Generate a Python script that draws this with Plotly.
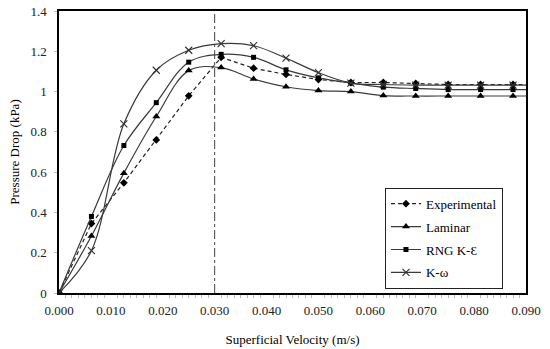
import plotly.graph_objects as go

velocity = [0.0, 0.00625, 0.0125, 0.01875, 0.025, 0.03125, 0.0375, 0.04375,
            0.05, 0.05625, 0.0625, 0.06875, 0.075, 0.08125, 0.0875, 0.09375]

experimental = [0.0, 0.345, 0.547, 0.76, 0.979, 1.17, 1.116, 1.085,
                 1.06, 1.045, 1.045, 1.04, 1.035, 1.035, 1.035, 1.035]
laminar = [0.0, 0.283, 0.595, 0.876, 1.104, 1.119, 1.063, 1.024,
           1.005, 1.0, 0.98, 0.978, 0.978, 0.978, 0.978, 0.978]
rng_ke = [0.0, 0.38, 0.732, 0.945, 1.146, 1.185, 1.17, 1.108,
          1.068, 1.042, 1.022, 1.015, 1.01, 1.01, 1.01, 1.01]
k_omega = [0.0, 0.21, 0.84, 1.106, 1.205, 1.238, 1.228, 1.166,
           1.094, 1.042, 1.035, 1.032, 1.032, 1.032, 1.032, 1.032]

y_ticks = [0, 0.2, 0.4, 0.6, 0.8, 1.0, 1.2, 1.4]
y_ticktext = ["0", "0.2", "0.4", "0.6", "0.8", "1", "1.2", "1.4"]
peak_velocity = 0.030

FONT = "Liberation Serif"

fig = go.Figure()

fig.add_trace(go.Scatter(
    x=velocity, y=experimental, name="Experimental", mode="lines+markers",
    line=dict(color="#222222", width=1.2, dash="4px,3px"),
    marker=dict(symbol="diamond", size=6, color="black"),
    legendgroup="a"))
fig.add_trace(go.Scatter(
    x=velocity, y=laminar, name="Laminar", mode="lines+markers",
    line=dict(color="#3a3a3a", width=1.2, shape="spline"),
    marker=dict(symbol="triangle-up", size=7, color="black"),
    legendgroup="b"))
fig.add_trace(go.Scatter(
    x=velocity, y=rng_ke, name="RNG K-Ɛ", mode="lines+markers",
    line=dict(color="#3a3a3a", width=1.2, shape="spline"),
    marker=dict(symbol="square", size=5, color="black"),
    legendgroup="c"))
fig.add_trace(go.Scatter(
    x=velocity, y=k_omega, name="K-ω", mode="lines+markers",
    line=dict(color="#3a3a3a", width=1.2, shape="spline"),
    marker=dict(symbol="x-thin", size=7, color="#333333",
                line=dict(color="#333333", width=1.2)),
    legendgroup="d"))

fig.add_shape(type="line", xref="x", yref="paper",
              x0=peak_velocity, x1=peak_velocity, y0=0, y1=1,
              line=dict(color="#444444", width=1, dash="dashdot"))

fig.update_layout(
    width=550, height=349,
    margin=dict(l=59, r=24, t=11, b=56),
    paper_bgcolor="white", plot_bgcolor="white",
    font=dict(family=FONT, size=13, color="black"),
    showlegend=True,
    legend=dict(
        x=0.698, y=0.015, xanchor="left", yanchor="bottom",
        bgcolor="white", bordercolor="#222222", borderwidth=1,
        font=dict(family=FONT, size=13, color="black"),
        traceorder="grouped", tracegroupgap=3,
        itemwidth=30,
    ),
    xaxis=dict(
        range=[0, 0.09], dtick=0.01, tick0=0, tickformat=".3f",
        showgrid=False, zeroline=False, automargin=False,
        showline=True, linecolor="black", linewidth=1.5, mirror=True,
        ticks="", ticklabelstandoff=5,
        tickfont=dict(family=FONT, size=13, color="#222222"),
        minor=dict(dtick=0.00125, ticks="outside", ticklen=3,
                   tickcolor="#bbbbbb", showgrid=False),
        title=dict(text="Superficial Velocity (m/s)",
                   font=dict(family=FONT, size=13, color="black"), standoff=18),
    ),
    yaxis=dict(
        range=[0, 1.4], tickvals=y_ticks, ticktext=y_ticktext,
        showgrid=False, zeroline=False, automargin=False,
        showline=True, linecolor="black", linewidth=1.5, mirror=True,
        ticks="outside", ticklen=3, tickcolor="#bbbbbb", ticklabelstandoff=5,
        tickfont=dict(family=FONT, size=13, color="#222222"),
        title=dict(text="Pressure Drop (kPa)",
                   font=dict(family=FONT, size=13, color="black"), standoff=8),
    ),
)

fig.write_html("out.html", config={"displayModeBar": False},
               post_script="document.body.style.margin='0';document.body.style.overflow='hidden';")
